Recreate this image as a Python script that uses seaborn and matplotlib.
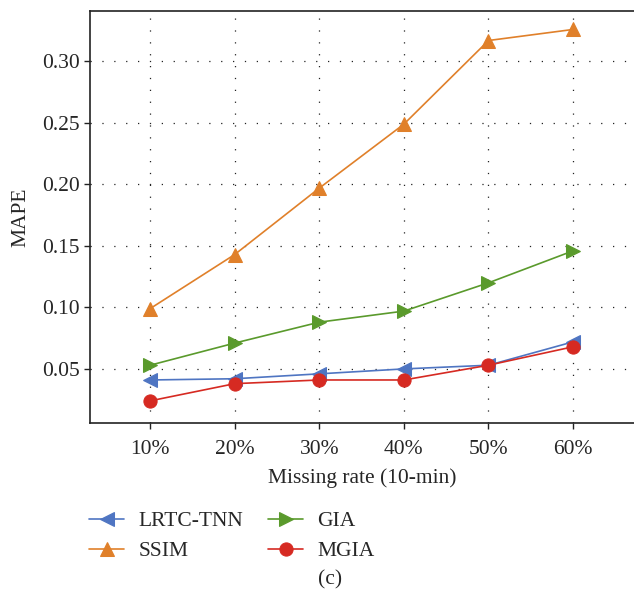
import pandas as pd
import matplotlib
matplotlib.use('Agg')
import matplotlib.pyplot as plt
import seaborn as sns

# values
rates = [10, 20, 30, 40, 50, 60]
rate_labels = ['10%', '20%', '30%', '40%', '50%', '60%']
lrtc_tnn = [0.041, 0.042, 0.046, 0.050, 0.053, 0.072]
ssim = [0.099, 0.143, 0.197, 0.249, 0.317, 0.326]
gia = [0.053, 0.071, 0.088, 0.097, 0.120, 0.146]
mgia = [0.024, 0.038, 0.041, 0.041, 0.053, 0.068]

methods = ['LRTC-TNN', 'SSIM', 'GIA', 'MGIA']
series = [lrtc_tnn, ssim, gia, mgia]
colors = {'LRTC-TNN': '#4f75c2', 'SSIM': '#e0802a', 'GIA': '#5a9a2c', 'MGIA': '#d62a22'}
markers = {'LRTC-TNN': '<', 'SSIM': '^', 'GIA': '>', 'MGIA': 'o'}

df = pd.DataFrame({
    'rate': rates * len(methods),
    'MAPE': [v for s in series for v in s],
    'method': [m for m in methods for _ in rates],
})

sns.set_style('ticks')
plt.rcParams['font.family'] = ['Liberation Serif', 'DejaVu Serif']
fs = 15.5

fig = plt.figure(figsize=(6.34, 5.98), dpi=100)
ax = fig.add_axes([0.142, 0.2926, 0.858, 0.689])

for m in methods:
    sns.lineplot(data=df[df['method'] == m], x='rate', y='MAPE', ax=ax,
                 color=colors[m], marker=markers[m], markersize=9.5,
                 markeredgecolor=colors[m], linewidth=1.2, label=m)

ax.set_xlim(2.9, 67.2)
ax.set_ylim(0.006, 0.341)
ax.set_xticks(rates)
ax.set_xticklabels(rate_labels)
ax.set_yticks([0.05, 0.10, 0.15, 0.20, 0.25, 0.30])
ax.set_yticklabels(['0.05', '0.10', '0.15', '0.20', '0.25', '0.30'])
ax.grid(True, color='#222222', linestyle=(0, (1, 8.5)), linewidth=0.9)
ax.tick_params(labelsize=fs, direction='out', length=4, width=1, color='#222222')
ax.tick_params(axis='x', pad=8)
ax.set_xlabel('Missing rate (10-min)', fontsize=fs, labelpad=7)
ax.set_ylabel('MAPE', fontsize=fs, labelpad=8)
ax.spines['right'].set_visible(False)
for s in ['left', 'top', 'bottom']:
    ax.spines[s].set_linewidth(1.2)
    ax.spines[s].set_color('#222222')

ax.legend(loc='upper left', bbox_to_anchor=(0.140, 0.145), bbox_transform=fig.transFigure,
          ncol=2, frameon=False, fontsize=fs, handlelength=1.65, handletextpad=0.65,
          columnspacing=1.15, labelspacing=0.45, borderpad=0, borderaxespad=0)

fig.text(0.52, 0.03, '(c)', ha='center', va='center', fontsize=fs)

fig.savefig('out.png', dpi=100)
